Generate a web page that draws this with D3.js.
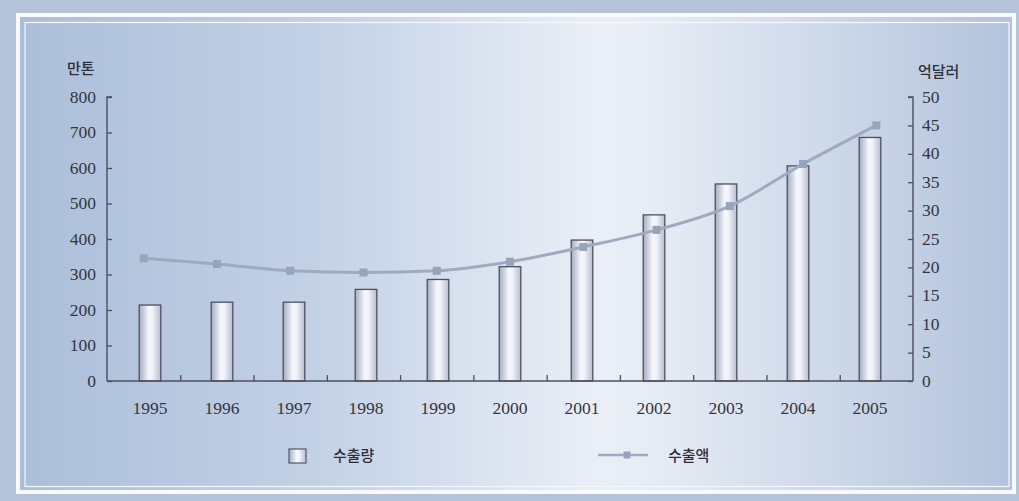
<!DOCTYPE html>
<html>
<head>
<meta charset="utf-8">
<script src="https://cdn.jsdelivr.net/npm/d3@7"></script>
<style>
  html, body { margin: 0; padding: 0; background: #fff; }
  svg { display: block; }
</style>
</head>
<body>
<script>
const width = 1019;
const height = 501;

// data
const years = ["1995", "1996", "1997", "1998", "1999", "2000", "2001", "2002", "2003", "2004", "2005"];
const volume = [214, 222, 222, 258, 286, 322, 397, 468, 555, 606, 686];      // 수출량, 만톤
const amount = [21.6, 20.6, 19.4, 19.1, 19.4, 21.0, 23.6, 26.6, 30.8, 38.2, 45.0]; // 수출액, 억달러
const leftTicks = [0, 100, 200, 300, 400, 500, 600, 700, 800];
const rightTicks = [0, 5, 10, 15, 20, 25, 30, 35, 40, 45, 50];

const svg = d3.select("body").append("svg")
  .attr("width", width)
  .attr("height", height);

const defs = svg.append("defs");

let bg = defs.append("linearGradient").attr("id", "bg")
  .attr("x1", "0%").attr("y1", "0%").attr("x2", "100%").attr("y2", "0%");
bg.append("stop").attr("offset", "0%").attr("stop-color", "#abbed9");
bg.append("stop").attr("offset", "30%").attr("stop-color", "#c3d1e6");
bg.append("stop").attr("offset", "58%").attr("stop-color", "#eaeff7");
bg.append("stop").attr("offset", "64%").attr("stop-color", "#e6ecf5");
bg.append("stop").attr("offset", "100%").attr("stop-color", "#b3c3dc");

let barGrad = defs.append("linearGradient").attr("id", "bar")
  .attr("x1", "0%").attr("y1", "0%").attr("x2", "100%").attr("y2", "0%");
barGrad.append("stop").attr("offset", "0%").attr("stop-color", "#a4acc2");
barGrad.append("stop").attr("offset", "45%").attr("stop-color", "#f7f8fc");
barGrad.append("stop").attr("offset", "60%").attr("stop-color", "#f2f4fa");
barGrad.append("stop").attr("offset", "100%").attr("stop-color", "#b7bdd0");

// frame
svg.append("rect").attr("width", width).attr("height", height).attr("fill", "#b4c3da");
svg.append("rect").attr("x", 18).attr("y", 15).attr("width", 996).attr("height", 477)
  .attr("fill", "url(#bg)").attr("stroke", "#f8fafd").attr("stroke-width", 4);
svg.append("rect").attr("x", 25).attr("y", 22.5).attr("width", 984).attr("height", 464)
  .attr("fill", "none").attr("stroke", "#f4f7fb").attr("stroke-width", 1.2);

const plotLeft = 107, plotRight = 913, plotTop = 97, plotBottom = 381;

const yLeft = d3.scaleLinear().domain([0, 800]).range([plotBottom, plotTop]);
const yRight = d3.scaleLinear().domain([0, 50]).range([plotBottom, plotTop]);
const xBar = d3.scaleBand().domain(years).range([114, 906]);
const xLine = d3.scalePoint().domain(years).range([plotLeft, plotRight]).padding(0.5);
const xTick = d3.scaleLinear().domain([0, years.length]).range([plotLeft, plotRight]);

const axisColor = "#4c4f5c";
const textColor = "#34363f";

// bars
const barW = xBar.step() * 0.3;
svg.selectAll(".bar")
  .data(years)
  .join("rect")
  .attr("class", "bar")
  .attr("x", (d) => xBar(d) + xBar.bandwidth() / 2 - barW / 2)
  .attr("y", (d, i) => yLeft(volume[i]))
  .attr("width", barW)
  .attr("height", (d, i) => plotBottom - yLeft(volume[i]))
  .attr("fill", "url(#bar)")
  .attr("stroke", "#4d5060")
  .attr("stroke-width", 1.3);

// line
const line = d3.line()
  .x((d, i) => xLine(years[i]))
  .y((d) => yRight(d))
  .curve(d3.curveMonotoneX);

svg.append("path")
  .datum(amount)
  .attr("d", line)
  .attr("fill", "none")
  .attr("stroke", "#9eabbf")
  .attr("stroke-width", 3);

svg.selectAll(".marker")
  .data(amount)
  .join("rect")
  .attr("class", "marker")
  .attr("x", (d, i) => xLine(years[i]) - 4)
  .attr("y", (d) => yRight(d) - 4)
  .attr("width", 8)
  .attr("height", 8)
  .attr("fill", "#97a4b9");

// axes
const leftAxis = d3.axisRight(yLeft).tickValues(leftTicks).tickSize(5).tickFormat("");
const gl = svg.append("g").attr("transform", `translate(${plotLeft},0)`).call(leftAxis);
const rightAxis = d3.axisLeft(yRight).tickValues(rightTicks).tickSize(5).tickFormat("");
const gr = svg.append("g").attr("transform", `translate(${plotRight},0)`).call(rightAxis);
const bottomAxis = d3.axisTop(xTick).tickValues(d3.range(1, years.length)).tickSize(6).tickFormat("");
const gb = svg.append("g").attr("transform", `translate(0,${plotBottom})`).call(bottomAxis);

for (let g of [gl, gr, gb]) {
  g.select(".domain").attr("stroke", axisColor).attr("stroke-width", 1.4);
  g.selectAll(".tick line").attr("stroke", axisColor).attr("stroke-width", 1.3);
}
gl.select(".domain").attr("d", `M5,${plotTop}H0V${plotBottom}`);
gr.select(".domain").attr("d", `M-5,${plotTop}H0V${plotBottom}`);
gb.select(".domain").attr("d", `M${plotLeft},0H${plotRight}`);

const serif = "'Liberation Serif', 'DejaVu Serif', serif";
const sans = "'Noto Sans CJK KR', 'Noto Sans', sans-serif";

svg.selectAll(".lt")
  .data(leftTicks)
  .join("text")
  .attr("class", "lt")
  .attr("x", 96)
  .attr("y", (d) => yLeft(d) + 5.5)
  .attr("text-anchor", "end")
  .attr("font-family", serif)
  .attr("font-size", 17.5)
  .attr("fill", textColor)
  .text((d) => d);

svg.selectAll(".rt")
  .data(rightTicks)
  .join("text")
  .attr("class", "rt")
  .attr("x", 922)
  .attr("y", (d) => yRight(d) + 5.5)
  .attr("font-family", serif)
  .attr("font-size", 17.5)
  .attr("fill", textColor)
  .text((d) => d);

svg.selectAll(".xt")
  .data(years)
  .join("text")
  .attr("class", "xt")
  .attr("x", (d) => xBar(d) + xBar.bandwidth() / 2)
  .attr("y", 414)
  .attr("text-anchor", "middle")
  .attr("font-family", serif)
  .attr("font-size", 17.5)
  .attr("fill", textColor)
  .text((d) => d);

// unit labels
svg.append("text").attr("x", 67).attr("y", 74)
  .attr("font-family", sans).attr("font-size", 15).attr("font-weight", 500)
  .attr("fill", "#2e3038").text("만톤");
svg.append("text").attr("x", 918).attr("y", 77)
  .attr("font-family", sans).attr("font-size", 15).attr("font-weight", 500)
  .attr("fill", "#2e3038").text("억달러");

// legend
svg.append("rect").attr("x", 289).attr("y", 449).attr("width", 17).attr("height", 14)
  .attr("fill", "url(#bar)").attr("stroke", "#55586a").attr("stroke-width", 1.2);
svg.append("text").attr("x", 333).attr("y", 461)
  .attr("font-family", sans).attr("font-size", 15).attr("font-weight", 500)
  .attr("fill", "#2e3038").text("수출량");
svg.append("line").attr("x1", 598).attr("x2", 648).attr("y1", 455).attr("y2", 455)
  .attr("stroke", "#9eabbf").attr("stroke-width", 2.5);
svg.append("rect").attr("x", 623.5).attr("y", 451.5).attr("width", 7).attr("height", 7)
  .attr("fill", "#97a4b9");
svg.append("text").attr("x", 668).attr("y", 461)
  .attr("font-family", sans).attr("font-size", 15).attr("font-weight", 500)
  .attr("fill", "#2e3038").text("수출액");
</script>
</body>
</html>
